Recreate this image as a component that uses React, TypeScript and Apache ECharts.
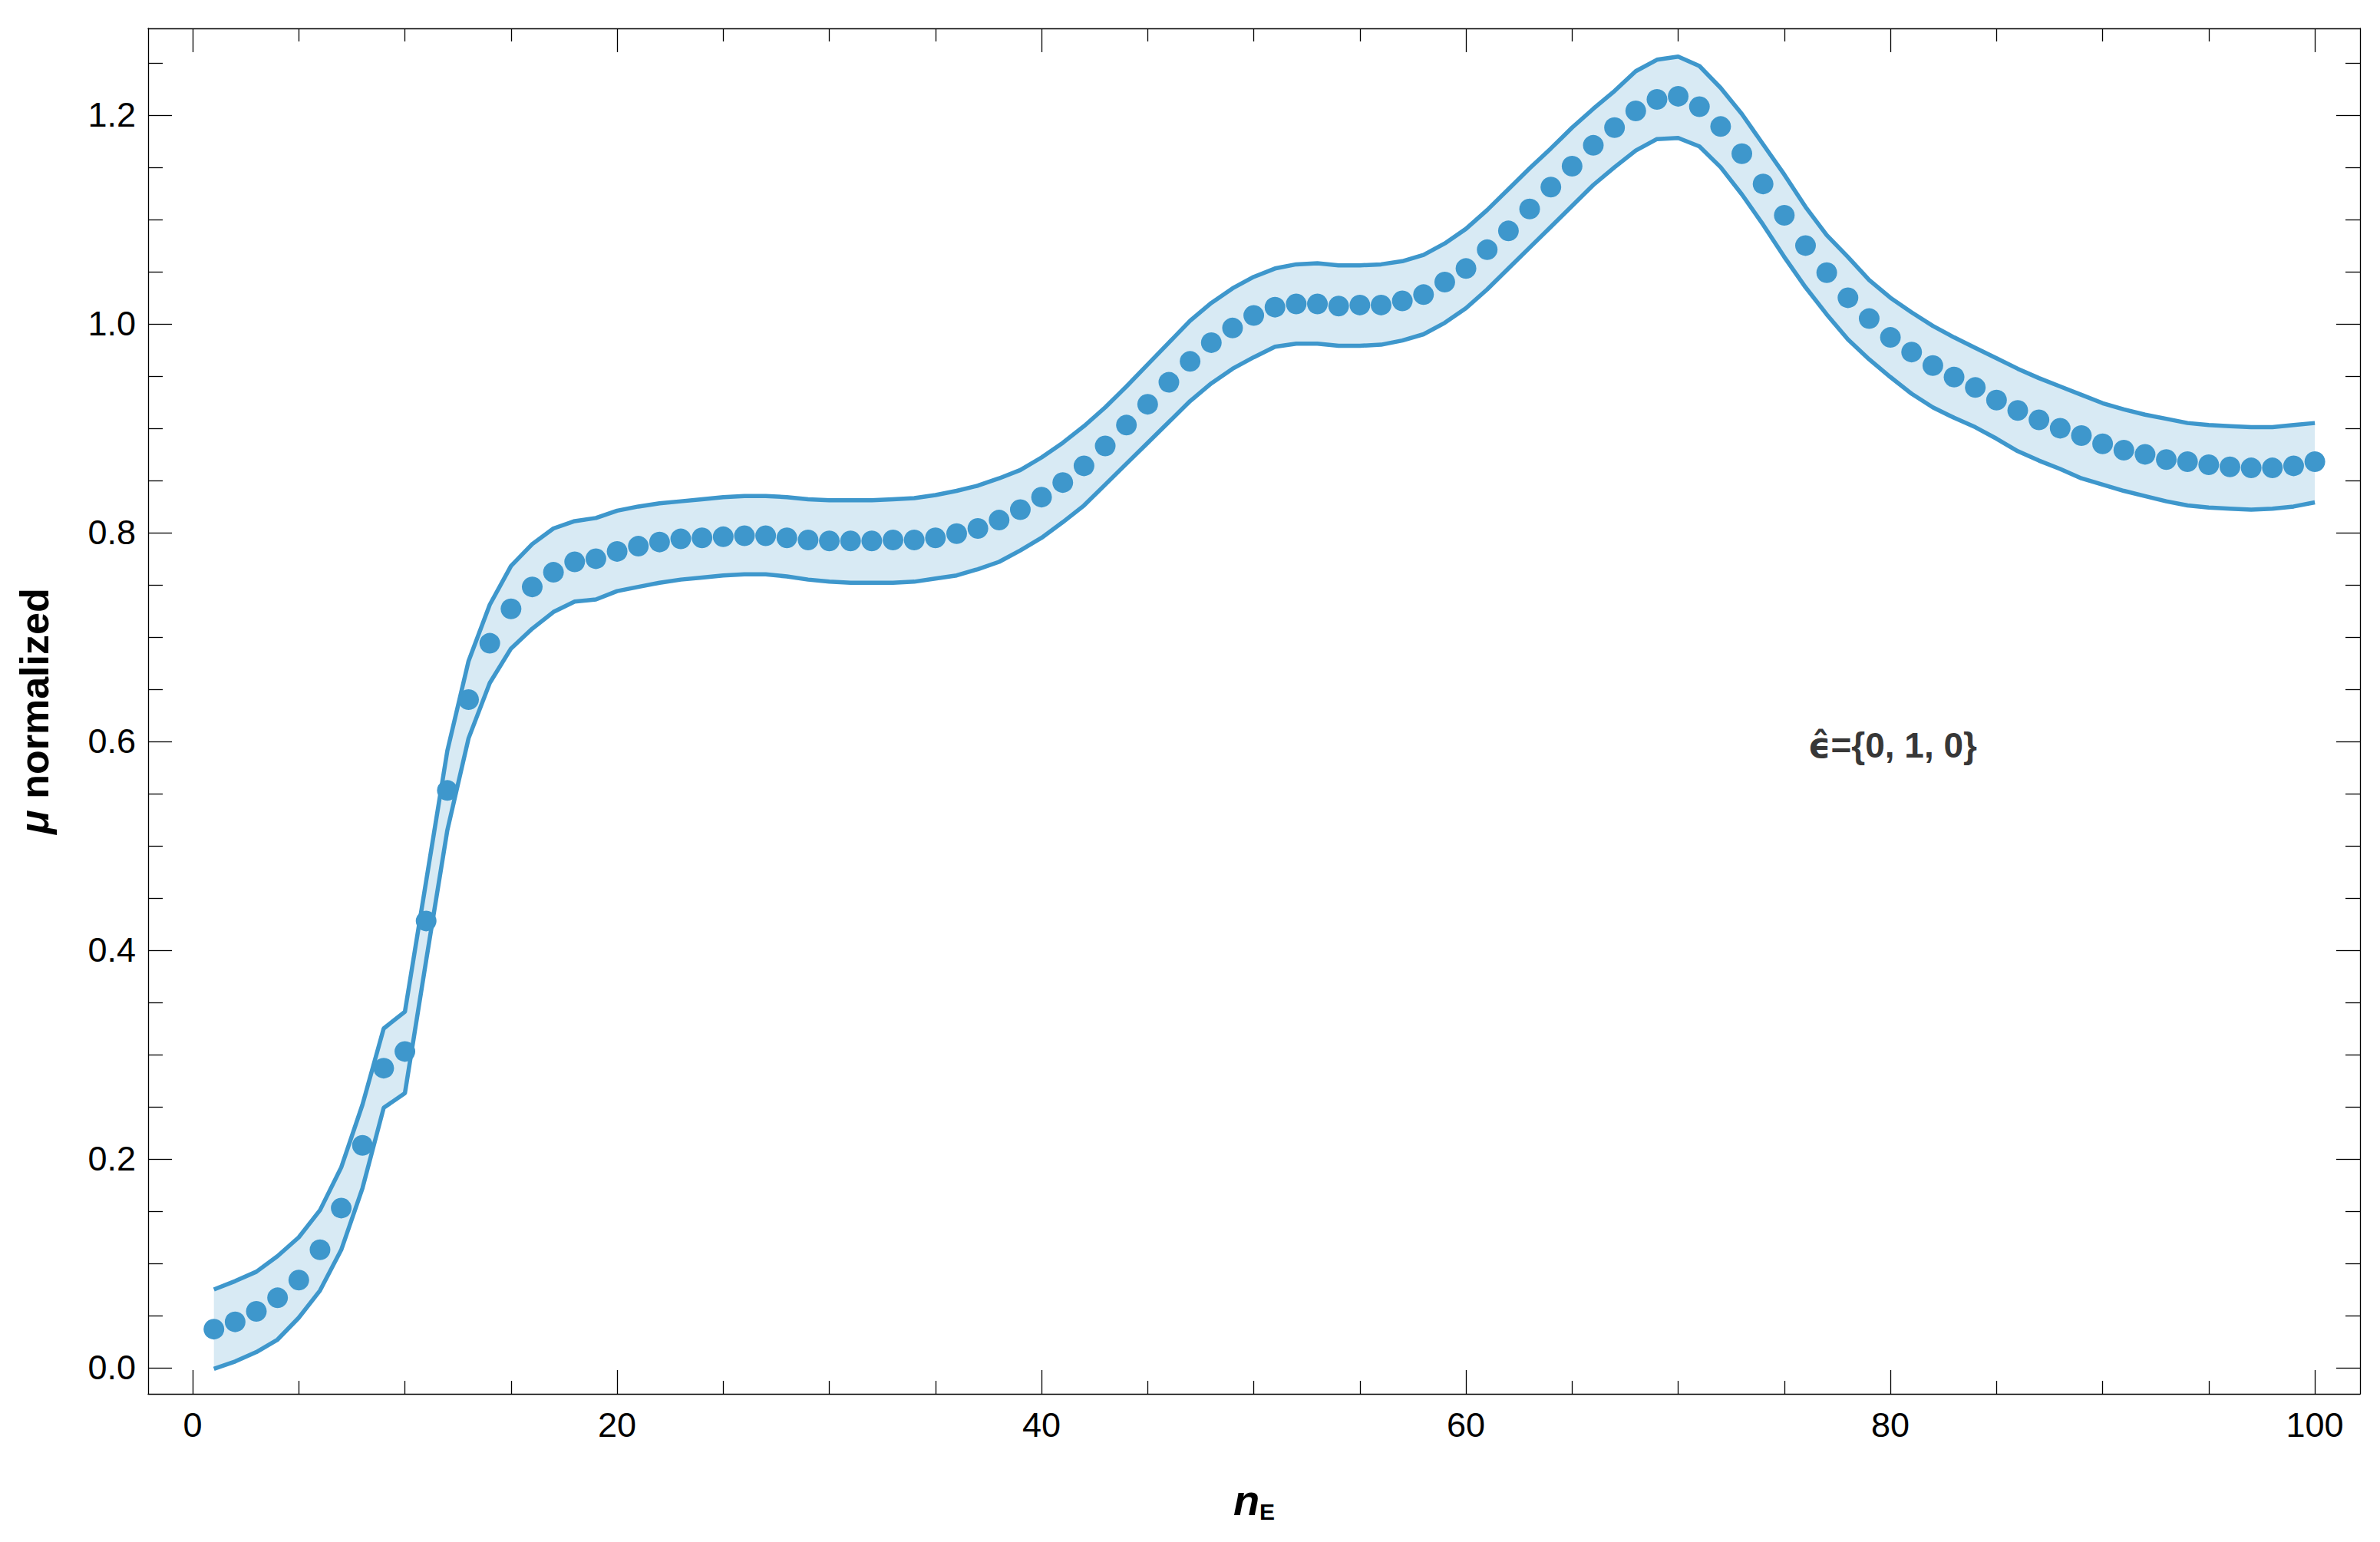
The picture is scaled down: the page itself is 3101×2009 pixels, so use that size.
import { useEffect, useRef } from "react";
import * as echarts from "echarts";

// n_E runs 1..100 (one point per integer)
const nE = Array.from({ length: 100 }, (_, i) => i + 1);

const muMean = [
  0.037, 0.044, 0.054, 0.067, 0.084, 0.113, 0.153, 0.213, 0.287, 0.303,
  0.428, 0.553, 0.640, 0.694, 0.727, 0.748, 0.762, 0.772, 0.775, 0.782,
  0.787, 0.791, 0.794, 0.795, 0.796, 0.797, 0.797, 0.795, 0.793, 0.792,
  0.792, 0.792, 0.793, 0.793, 0.795, 0.799, 0.804, 0.812, 0.822, 0.834,
  0.848, 0.864, 0.883, 0.903, 0.923, 0.944, 0.964, 0.982, 0.996, 1.008,
  1.016, 1.019, 1.019, 1.017, 1.018, 1.018, 1.022, 1.028, 1.040, 1.053,
  1.071, 1.089, 1.110, 1.131, 1.151, 1.171, 1.188, 1.204, 1.215, 1.218,
  1.208, 1.189, 1.163, 1.134, 1.104, 1.075, 1.049, 1.025, 1.005, 0.987,
  0.973, 0.960, 0.949, 0.939, 0.927, 0.917, 0.908, 0.900, 0.893, 0.885,
  0.879, 0.875, 0.870, 0.868, 0.865, 0.863, 0.862, 0.862, 0.864, 0.868,
];

const muUpper = [
  0.075, 0.083, 0.092, 0.107, 0.125, 0.151, 0.192, 0.252, 0.325, 0.341,
  0.466, 0.591, 0.677, 0.731, 0.768, 0.789, 0.804, 0.811, 0.814, 0.821,
  0.825, 0.828, 0.830, 0.832, 0.834, 0.835, 0.835, 0.834, 0.832, 0.831,
  0.831, 0.831, 0.832, 0.833, 0.836, 0.840, 0.845, 0.852, 0.860, 0.872,
  0.886, 0.902, 0.920, 0.940, 0.961, 0.982, 1.003, 1.020, 1.034, 1.045,
  1.053, 1.057, 1.058, 1.056, 1.056, 1.057, 1.060, 1.066, 1.077, 1.091,
  1.109, 1.129, 1.149, 1.168, 1.188, 1.206, 1.223, 1.242, 1.253, 1.256,
  1.247, 1.226, 1.201, 1.172, 1.143, 1.112, 1.085, 1.064, 1.042, 1.025,
  1.011, 0.998, 0.987, 0.977, 0.967, 0.957, 0.948, 0.940, 0.932, 0.924,
  0.918, 0.913, 0.909, 0.905, 0.903, 0.902, 0.901, 0.901, 0.903, 0.905,
];

const muLower = [
  -0.001, 0.006, 0.015, 0.027, 0.048, 0.074, 0.113, 0.172, 0.249, 0.263,
  0.390, 0.515, 0.603, 0.656, 0.689, 0.708, 0.724, 0.734, 0.736, 0.744,
  0.748, 0.752, 0.755, 0.757, 0.759, 0.760, 0.760, 0.758, 0.755, 0.753,
  0.752, 0.752, 0.752, 0.753, 0.756, 0.759, 0.765, 0.772, 0.783, 0.795,
  0.810, 0.826, 0.846, 0.866, 0.886, 0.906, 0.926, 0.943, 0.957, 0.968,
  0.978, 0.981, 0.981, 0.979, 0.979, 0.980, 0.984, 0.990, 1.001, 1.015,
  1.033, 1.053, 1.073, 1.093, 1.113, 1.133, 1.150, 1.166, 1.177, 1.178,
  1.170, 1.150, 1.124, 1.095, 1.064, 1.035, 1.009, 0.985, 0.966, 0.949,
  0.933, 0.920, 0.910, 0.901, 0.890, 0.878, 0.869, 0.861, 0.852, 0.846,
  0.840, 0.835, 0.830, 0.826, 0.824, 0.823, 0.822, 0.823, 0.825, 0.829,
];

const xMajorTicks = [0, 20, 40, 60, 80, 100];
const xMinorTicks = [5, 10, 15, 25, 30, 35, 45, 50, 55, 65, 70, 75, 85, 90, 95];
const yMajorTicks = [0, 0.2, 0.4, 0.6, 0.8, 1.0, 1.2];
const yTickLabels = ["0.0", "0.2", "0.4", "0.6", "0.8", "1.0", "1.2"];
const yMinorTicks = [
  0.05, 0.1, 0.15, 0.25, 0.3, 0.35, 0.45, 0.5, 0.55, 0.65, 0.7, 0.75,
  0.85, 0.9, 0.95, 1.05, 1.1, 1.15, 1.25,
];

// annotation ε̂={0, 1, 0}; the closing brace is kept outside the rich tag
const annotation = { x: 80.1, y: 0.596, symbol: "ϵ̂", text: "={0, 1, 0", close: "}" };

const X_MIN = -2.1;
const X_MAX = 102.13;
const Y_MIN = -0.025;
const Y_MAX = 1.283;

const BLUE = "#3e97cc";
const BAND_FILL = "#d8eaf4";
const FONT = "Liberation Sans, Arial, sans-serif";

function frameAxis(position: string, ticks: number[], length: number, withLine: boolean, extra: object = {}) {
  const vertical = position === "left" || position === "right";
  return {
    type: "value",
    position,
    min: vertical ? Y_MIN : X_MIN,
    max: vertical ? Y_MAX : X_MAX,
    splitLine: { show: false },
    axisLine: { show: withLine, onZero: false, lineStyle: { color: "#000", width: 1.3 } },
    axisTick: {
      show: true,
      inside: true,
      length,
      customValues: ticks,
      lineStyle: { color: "#000", width: 1.3 },
    },
    axisLabel: { show: false },
    ...extra,
  };
}

export default function App() {
  const chartRef = useRef<HTMLDivElement | null>(null);

  useEffect(() => {
    if (!chartRef.current) {
      return;
    }
    document.body.style.margin = "0";

    const chart = echarts.init(chartRef.current, null, { renderer: "svg" });

    const tickLabel = { color: "#000", fontSize: 45, fontFamily: FONT };

    chart.setOption({
      animation: false,
      backgroundColor: "#fff",
      grid: { left: 193, right: 26, top: 37, bottom: 193, containLabel: false },
      xAxis: [
        frameAxis("bottom", xMajorTicks, 31, true, {
          axisLabel: { ...tickLabel, show: true, margin: 18, customValues: xMajorTicks },
          name: "{n|n}{e|E}",
          nameLocation: "middle",
          nameGap: 108,
          nameTextStyle: {
            rich: {
              n: { fontSize: 56, fontWeight: "bold", fontStyle: "italic", fontFamily: FONT, color: "#000", lineHeight: 60 },
              e: { fontSize: 30, fontWeight: "bold", fontFamily: FONT, color: "#000", lineHeight: 30, verticalAlign: "bottom", padding: [14, 0, 0, 0] },
            },
          },
        }),
        frameAxis("bottom", xMinorTicks, 17, false),
        frameAxis("top", xMajorTicks, 31, true),
        frameAxis("top", xMinorTicks, 17, false),
      ],
      yAxis: [
        frameAxis("left", yMajorTicks, 31, true, {
          axisLabel: {
            ...tickLabel,
            show: true,
            margin: 16,
            customValues: yMajorTicks,
            formatter: (v: number) => {
              const i = yMajorTicks.findIndex((t) => Math.abs(t - v) < 1e-6);
              return i >= 0 ? yTickLabels[i] : "";
            },
          },
          name: "{mu|μ} normalized",
          nameLocation: "middle",
          nameGap: 122,
          nameTextStyle: {
            fontSize: 52,
            fontWeight: "bold",
            fontFamily: FONT,
            color: "#000",
            rich: {
              mu: { fontSize: 52, fontWeight: "bold", fontStyle: "italic", fontFamily: FONT, color: "#000" },
            },
          },
        }),
        frameAxis("left", yMinorTicks, 19, false),
        frameAxis("right", yMajorTicks, 31, true),
        frameAxis("right", yMinorTicks, 19, false),
      ],
      series: [
        {
          type: "custom",
          silent: true,
          z: 1,
          data: [[nE[0], muMean[0]]],
          renderItem: (_params: unknown, api: any) => {
            const pts: number[][] = [];
            nE.forEach((n, i) => pts.push(api.coord([n, muUpper[i]])));
            for (let i = nE.length - 1; i >= 0; i--) {
              pts.push(api.coord([nE[i], muLower[i]]));
            }
            return { type: "polygon", shape: { points: pts }, style: { fill: BAND_FILL } };
          },
        },
        {
          type: "line",
          z: 2,
          symbol: "none",
          silent: true,
          lineStyle: { color: BLUE, width: 5.5 },
          data: nE.map((n, i) => [n, muUpper[i]]),
        },
        {
          type: "line",
          z: 2,
          symbol: "none",
          silent: true,
          lineStyle: { color: BLUE, width: 5.5 },
          data: nE.map((n, i) => [n, muLower[i]]),
        },
        {
          type: "scatter",
          z: 3,
          symbol: "circle",
          symbolSize: 27,
          itemStyle: { color: BLUE, opacity: 1 },
          data: nE.map((n, i) => [n, muMean[i]]),
        },
        {
          type: "scatter",
          z: 4,
          symbolSize: 1,
          itemStyle: { color: "rgba(0,0,0,0)" },
          label: {
            show: true,
            position: "inside",
            color: "#000",
            fontSize: 46,
            fontWeight: "bold",
            fontFamily: FONT,
            formatter: `{e|${annotation.symbol}}{t|${annotation.text}}${annotation.close}`,
            rich: {
              e: { fontSize: 46, fontWeight: "bold", fontFamily: "DejaVu Sans", color: "#000" },
              t: { fontSize: 46, fontWeight: "bold", fontFamily: FONT, color: "#000" },
            },
          },
          data: [[annotation.x, annotation.y]],
        },
      ],
    });

    const handleResize = () => chart.resize();
    window.addEventListener("resize", handleResize);

    return () => {
      window.removeEventListener("resize", handleResize);
      chart.dispose();
    };
  }, []);

  return <div ref={chartRef} style={{ width: 3101, height: 2009 }} />;
}
